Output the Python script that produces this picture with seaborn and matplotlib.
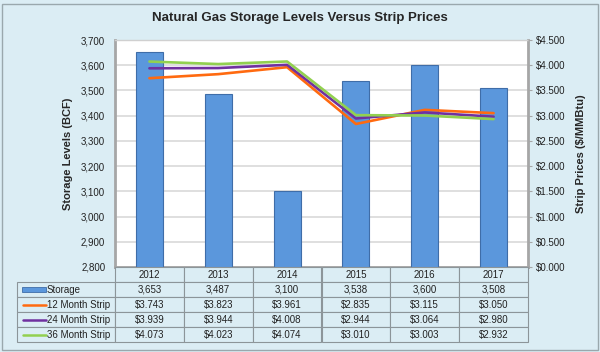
import numpy as np
import matplotlib
matplotlib.use('Agg')
import matplotlib.pyplot as plt
import seaborn as sns
from matplotlib.patches import Rectangle
from matplotlib.lines import Line2D

# data
years = ['2012', '2013', '2014', '2015', '2016', '2017']
storage = [3653, 3487, 3100, 3538, 3600, 3508]
strip_12 = [3.743, 3.823, 3.961, 2.835, 3.115, 3.050]
strip_24 = [3.939, 3.944, 4.008, 2.944, 3.064, 2.980]
strip_36 = [4.073, 4.023, 4.074, 3.010, 3.003, 2.932]
series_names = ['12 Month Strip', '24 Month Strip', '36 Month Strip']
series_colors = ['#ff6a10', '#7030a0', '#92d050']

bg = '#dbedf4'
bar_color = '#5b97dc'

sns.set_style('white')
plt.rcParams['font.family'] = ['Liberation Sans', 'DejaVu Sans']

W, H = 600, 352
fig = plt.figure(figsize=(6, 3.52), dpi=100, facecolor=bg)
fig.add_artist(Rectangle((2 / W, 2 / H), 596 / W, 346 / H, transform=fig.transFigure,
                         fill=False, edgecolor='#9aa8ad', lw=1))

# plot area
x0, x1, ytop, ybot = 115, 528, 40, 267
ax = fig.add_axes([x0 / W, 1 - ybot / H, (x1 - x0) / W, (ybot - ytop) / H])
ax.set_facecolor('white')

sns.barplot(x=years, y=storage, ax=ax, color=bar_color, width=0.39,
            edgecolor='#3f6da8', linewidth=0.8, saturation=1, zorder=3)
ax.set_ylim(2800, 3700)
ax.set_yticks(np.arange(2800, 3701, 100))
ax.set_yticklabels([f'{v:,}' for v in np.arange(2800, 3701, 100)], fontsize=7, color='#222222')
ax.set_xlim(-0.5, len(years) - 0.5)
ax.set_xticks([])
ax.set_xlabel('')
ax.set_ylabel('Storage Levels (BCF)', fontsize=8, fontweight='bold', labelpad=6)
ax.yaxis.grid(True, color='#d9d9d9', lw=1.2, zorder=0)
ax.set_axisbelow(True)
ax.tick_params(axis='y', length=0, pad=7)
for s in ['left', 'bottom', 'right']:
    ax.spines[s].set_color('#a6a6a6')
    ax.spines[s].set_linewidth(2)
ax.spines['top'].set_color('#d0d0d0')
ax.spines['top'].set_linewidth(1)

ax2 = ax.twinx()
xs = np.arange(len(years))
for vals, name, col in zip([strip_12, strip_24, strip_36], series_names, series_colors):
    sns.lineplot(x=xs, y=vals, ax=ax2, color=col, lw=1.9, zorder=4)
ax2.set_ylim(0, 4.5)
ax2.set_yticks(np.arange(0, 4.51, 0.5))
ax2.set_yticklabels([f'${v:.3f}' for v in np.arange(0, 4.51, 0.5)], fontsize=7, color='#222222')
ax2.set_ylabel('Strip Prices ($/MMBtu)', fontsize=8, fontweight='bold', labelpad=7)
ax2.tick_params(axis='y', length=3, color='#a6a6a6', pad=3)
for s in ax2.spines.values():
    s.set_visible(False)

# data table below the plot
rows_y = [267, 282, 297, 312, 327, 342]
lab_x0 = 17
colw = (x1 - x0) / len(years)
cell_bg = '#dbedf4'
edge = '#8c9599'


def cell(xa, ya, w, h):
    fig.add_artist(Rectangle((xa / W, 1 - (ya + h) / H), w / W, h / H,
                             transform=fig.transFigure, facecolor=cell_bg,
                             edgecolor=edge, lw=0.8))


def ftext(x, y, s, **kw):
    fig.text(x / W, 1 - y / H, s, fontsize=7, va='center', color='#222222', **kw)


# header row
for i, yr in enumerate(years):
    cell(x0 + i * colw, rows_y[0], colw, 15)
    ftext(x0 + (i + 0.5) * colw, rows_y[0] + 8, yr, ha='center')

table_rows = [[f'{v:,}' for v in storage]] + \
    [[f'${v:.3f}' for v in vals] for vals in [strip_12, strip_24, strip_36]]
row_names = ['Storage'] + series_names
for r, (name, texts) in enumerate(zip(row_names, table_rows)):
    ya = rows_y[r + 1]
    cell(lab_x0, ya, x0 - lab_x0, 15)
    for i, t in enumerate(texts):
        cell(x0 + i * colw, ya, colw, 15)
        ftext(x0 + (i + 0.5) * colw, ya + 8, t, ha='center')
    ym = 1 - (ya + 7.5) / H
    if r == 0:
        fig.add_artist(Rectangle((22 / W, ym - 2.5 / H), 24 / W, 5 / H,
                                 transform=fig.transFigure, facecolor=bar_color,
                                 edgecolor='#3f6da8', lw=0.6))
    else:
        fig.add_artist(Line2D([23 / W, 46 / W], [ym, ym], transform=fig.transFigure,
                              color=series_colors[r - 1], lw=1.8))
    ftext(47, ya + 8, name, ha='left')

fig.text(0.5, 1 - 18 / H, 'Natural Gas Storage Levels Versus Strip Prices',
         ha='center', va='center', fontsize=9.5, fontweight='bold')

fig.savefig('out.png', dpi=100, facecolor=bg)
